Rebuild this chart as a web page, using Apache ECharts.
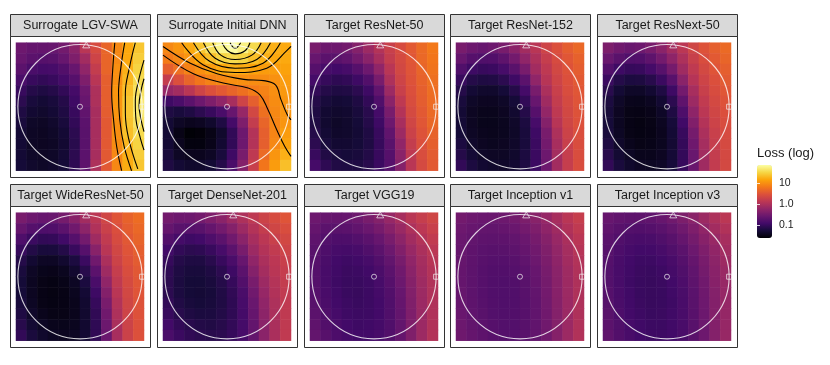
<!DOCTYPE html>
<html>
<head>
<meta charset="utf-8">
<script src="https://cdn.jsdelivr.net/npm/echarts@6/dist/echarts.min.js"></script>
<style>
html, body { margin: 0; padding: 0; background: #fff; }
#chart { width: 830px; height: 365px; }
</style>
</head>
<body>
<div id="chart"></div>
<script>
// panel titles, row by row
const panelTitles = [
  'Surrogate LGV-SWA', 'Surrogate Initial DNN', 'Target ResNet-50', 'Target ResNet-152', 'Target ResNext-50',
  'Target WideResNet-50', 'Target DenseNet-201', 'Target VGG19', 'Target Inception v1', 'Target Inception v3'
]

// log10(loss), 12 x 12 cells, rows from top to bottom
const lgvSwa = [
  [-0.55,-0.62,-0.62,-0.6,-0.5,-0.3,0.1,0.4,0.65,0.95,1.2,1.4],
  [-0.6,-0.7,-0.75,-0.72,-0.6,-0.4,-0.1,0.3,0.65,0.95,1.2,1.45],
  [-0.7,-0.85,-0.9,-0.88,-0.78,-0.6,-0.25,0.2,0.65,1.0,1.25,1.5],
  [-0.85,-1.0,-1.05,-1.0,-0.9,-0.75,-0.4,0.1,0.6,1.0,1.3,1.55],
  [-1.0,-1.15,-1.2,-1.15,-1.05,-0.9,-0.55,0.0,0.6,1.05,1.35,1.62],
  [-1.1,-1.25,-1.3,-1.25,-1.15,-0.95,-0.6,0.0,0.6,1.05,1.4,1.68],
  [-1.2,-1.32,-1.35,-1.3,-1.2,-1.0,-0.65,-0.05,0.58,1.05,1.4,1.68],
  [-1.25,-1.38,-1.4,-1.35,-1.25,-1.05,-0.7,-0.05,0.55,1.0,1.38,1.62],
  [-1.3,-1.4,-1.42,-1.38,-1.3,-1.1,-0.72,-0.05,0.55,1.0,1.35,1.55],
  [-1.3,-1.4,-1.42,-1.4,-1.32,-1.12,-0.72,-0.05,0.55,0.98,1.3,1.5],
  [-1.3,-1.38,-1.4,-1.38,-1.3,-1.1,-0.7,-0.05,0.55,0.95,1.25,1.45],
  [-1.28,-1.35,-1.38,-1.35,-1.28,-1.08,-0.68,0.0,0.55,0.95,1.22,1.4]
]
const initialDnn = [
  [0.95,1.05,1.2,1.4,1.6,1.78,1.85,1.75,1.55,1.35,1.25,1.2],
  [0.85,0.95,1.05,1.2,1.35,1.5,1.55,1.5,1.35,1.25,1.2,1.2],
  [0.6,0.75,0.9,1.0,1.1,1.2,1.25,1.22,1.15,1.1,1.1,1.15],
  [0.2,0.45,0.65,0.8,0.9,0.95,1.0,1.0,0.98,0.98,1.02,1.1],
  [-0.2,-0.1,0.1,0.3,0.45,0.55,0.65,0.75,0.85,0.9,1.0,1.08],
  [-0.95,-0.85,-0.7,-0.55,-0.4,-0.25,-0.05,0.3,0.6,0.85,0.98,1.05],
  [-1.2,-1.25,-1.2,-1.1,-1.0,-0.85,-0.6,-0.2,0.35,0.75,0.95,1.05],
  [-1.3,-1.4,-1.45,-1.42,-1.35,-1.2,-0.9,-0.4,0.2,0.65,0.92,1.05],
  [-1.3,-1.5,-1.6,-1.58,-1.5,-1.35,-1.05,-0.55,0.05,0.6,0.92,1.1],
  [-1.3,-1.45,-1.55,-1.55,-1.48,-1.32,-1.05,-0.55,0.05,0.6,0.95,1.15],
  [-1.25,-1.4,-1.45,-1.45,-1.4,-1.25,-0.95,-0.45,0.15,0.7,1.05,1.25],
  [-1.2,-1.3,-1.35,-1.35,-1.3,-1.15,-0.85,-0.35,0.25,0.8,1.1,1.35]
]
const resnet50 = [
  [-0.45,-0.55,-0.55,-0.5,-0.35,-0.15,0.05,0.25,0.4,0.55,0.7,0.82],
  [-0.6,-0.7,-0.72,-0.65,-0.5,-0.3,-0.05,0.2,0.38,0.52,0.68,0.8],
  [-0.75,-0.88,-0.92,-0.88,-0.75,-0.55,-0.25,0.1,0.35,0.5,0.65,0.78],
  [-0.9,-1.02,-1.08,-1.05,-0.95,-0.78,-0.45,0.0,0.3,0.48,0.63,0.75],
  [-1.05,-1.15,-1.2,-1.18,-1.1,-0.95,-0.65,-0.15,0.25,0.45,0.6,0.73],
  [-1.15,-1.25,-1.3,-1.28,-1.2,-1.05,-0.8,-0.3,0.15,0.42,0.58,0.72],
  [-1.2,-1.32,-1.35,-1.33,-1.25,-1.12,-0.9,-0.45,0.05,0.38,0.55,0.7],
  [-1.2,-1.33,-1.38,-1.35,-1.28,-1.15,-0.95,-0.55,-0.05,0.33,0.52,0.67],
  [-1.15,-1.3,-1.36,-1.35,-1.3,-1.2,-1.0,-0.65,-0.15,0.27,0.48,0.63],
  [-1.1,-1.25,-1.32,-1.32,-1.28,-1.2,-1.02,-0.72,-0.25,0.2,0.45,0.6],
  [-1.0,-1.18,-1.25,-1.27,-1.25,-1.17,-1.0,-0.75,-0.3,0.15,0.42,0.57],
  [-0.9,-1.08,-1.18,-1.2,-1.2,-1.12,-0.98,-0.75,-0.35,0.1,0.38,0.55]
]
const resnet152 = [
  [-0.45,-0.55,-0.6,-0.55,-0.45,-0.3,-0.1,0.1,0.3,0.45,0.58,0.68],
  [-0.6,-0.75,-0.8,-0.78,-0.68,-0.5,-0.25,0.0,0.22,0.4,0.52,0.62],
  [-0.8,-0.95,-1.0,-0.98,-0.88,-0.72,-0.45,-0.1,0.15,0.35,0.48,0.58],
  [-1.0,-1.15,-1.2,-1.18,-1.1,-0.95,-0.7,-0.25,0.08,0.3,0.45,0.55],
  [-1.15,-1.3,-1.35,-1.35,-1.28,-1.15,-0.9,-0.45,-0.02,0.25,0.42,0.52],
  [-1.25,-1.38,-1.42,-1.42,-1.38,-1.28,-1.05,-0.6,-0.12,0.2,0.38,0.5],
  [-1.3,-1.42,-1.46,-1.46,-1.42,-1.33,-1.15,-0.75,-0.22,0.15,0.35,0.48],
  [-1.3,-1.42,-1.47,-1.47,-1.44,-1.37,-1.22,-0.88,-0.35,0.08,0.32,0.46],
  [-1.28,-1.4,-1.45,-1.46,-1.44,-1.38,-1.25,-0.95,-0.45,0.0,0.28,0.44],
  [-1.22,-1.36,-1.42,-1.44,-1.42,-1.37,-1.25,-0.98,-0.5,-0.05,0.25,0.42],
  [-1.15,-1.3,-1.38,-1.4,-1.4,-1.35,-1.22,-0.98,-0.55,-0.08,0.22,0.42],
  [-1.05,-1.22,-1.32,-1.35,-1.36,-1.32,-1.2,-0.97,-0.55,-0.1,0.22,0.42]
]
const resnext50 = [
  [-0.42,-0.52,-0.58,-0.55,-0.45,-0.3,-0.1,0.12,0.32,0.48,0.6,0.7],
  [-0.58,-0.72,-0.8,-0.78,-0.68,-0.5,-0.27,0.0,0.24,0.42,0.55,0.65],
  [-0.78,-0.95,-1.02,-1.0,-0.9,-0.74,-0.48,-0.12,0.16,0.36,0.5,0.6],
  [-0.98,-1.15,-1.22,-1.21,-1.13,-0.98,-0.73,-0.3,0.07,0.3,0.45,0.56],
  [-1.12,-1.3,-1.38,-1.38,-1.32,-1.2,-0.95,-0.5,-0.05,0.24,0.41,0.52],
  [-1.22,-1.38,-1.46,-1.47,-1.43,-1.32,-1.1,-0.67,-0.15,0.18,0.37,0.48],
  [-1.26,-1.42,-1.5,-1.51,-1.48,-1.39,-1.2,-0.82,-0.27,0.12,0.33,0.45],
  [-1.27,-1.43,-1.51,-1.53,-1.5,-1.43,-1.27,-0.93,-0.38,0.05,0.29,0.42],
  [-1.25,-1.41,-1.5,-1.52,-1.51,-1.45,-1.3,-1.0,-0.48,-0.02,0.25,0.4],
  [-1.2,-1.37,-1.46,-1.5,-1.49,-1.44,-1.31,-1.03,-0.54,-0.07,0.22,0.38],
  [-1.13,-1.31,-1.41,-1.46,-1.46,-1.42,-1.29,-1.03,-0.58,-0.1,0.2,0.37],
  [-1.05,-1.24,-1.35,-1.4,-1.41,-1.38,-1.26,-1.01,-0.58,-0.12,0.19,0.36]
]
const wideResnet50 = [
  [-0.45,-0.55,-0.6,-0.58,-0.48,-0.32,-0.1,0.12,0.33,0.5,0.63,0.72],
  [-0.62,-0.76,-0.82,-0.8,-0.7,-0.52,-0.28,0.02,0.26,0.44,0.58,0.68],
  [-0.82,-0.98,-1.05,-1.03,-0.93,-0.76,-0.5,-0.12,0.18,0.4,0.54,0.64],
  [-1.0,-1.17,-1.25,-1.24,-1.16,-1.0,-0.75,-0.32,0.1,0.34,0.5,0.6],
  [-1.15,-1.32,-1.4,-1.4,-1.34,-1.22,-0.98,-0.52,-0.02,0.28,0.46,0.57],
  [-1.24,-1.4,-1.47,-1.48,-1.44,-1.34,-1.13,-0.7,-0.13,0.22,0.42,0.54],
  [-1.28,-1.43,-1.5,-1.52,-1.49,-1.41,-1.23,-0.85,-0.25,0.16,0.38,0.52],
  [-1.28,-1.43,-1.51,-1.53,-1.51,-1.44,-1.3,-0.95,-0.36,0.1,0.35,0.5],
  [-1.25,-1.41,-1.5,-1.52,-1.51,-1.46,-1.33,-1.02,-0.45,0.04,0.32,0.48],
  [-1.2,-1.37,-1.46,-1.5,-1.5,-1.46,-1.34,-1.06,-0.52,0.0,0.3,0.47],
  [-1.13,-1.31,-1.41,-1.46,-1.47,-1.44,-1.33,-1.07,-0.56,-0.03,0.28,0.46],
  [-1.05,-1.24,-1.35,-1.41,-1.43,-1.41,-1.31,-1.06,-0.57,-0.05,0.27,0.46]
]
const densenet201 = [
  [-0.5,-0.55,-0.55,-0.5,-0.4,-0.3,-0.15,0.0,0.15,0.28,0.4,0.5],
  [-0.62,-0.72,-0.75,-0.72,-0.62,-0.5,-0.35,-0.15,0.05,0.2,0.32,0.42],
  [-0.78,-0.9,-0.95,-0.92,-0.82,-0.7,-0.52,-0.3,-0.05,0.12,0.25,0.35],
  [-0.92,-1.05,-1.1,-1.08,-1.0,-0.88,-0.7,-0.45,-0.15,0.05,0.18,0.3],
  [-1.02,-1.15,-1.2,-1.2,-1.12,-1.0,-0.85,-0.6,-0.25,-0.02,0.13,0.25],
  [-1.08,-1.2,-1.25,-1.25,-1.2,-1.1,-0.95,-0.7,-0.35,-0.08,0.1,0.22],
  [-1.1,-1.22,-1.28,-1.28,-1.24,-1.15,-1.02,-0.78,-0.45,-0.15,0.06,0.2],
  [-1.1,-1.22,-1.28,-1.29,-1.26,-1.18,-1.06,-0.85,-0.52,-0.2,0.03,0.18],
  [-1.05,-1.18,-1.25,-1.27,-1.25,-1.19,-1.08,-0.88,-0.58,-0.25,0.0,0.17],
  [-1.0,-1.13,-1.2,-1.23,-1.22,-1.17,-1.07,-0.9,-0.62,-0.28,-0.02,0.16],
  [-0.92,-1.05,-1.13,-1.17,-1.18,-1.14,-1.05,-0.9,-0.63,-0.3,-0.03,0.16],
  [-0.85,-0.98,-1.06,-1.1,-1.12,-1.1,-1.02,-0.88,-0.63,-0.3,-0.03,0.17]
]
const vgg19 = [
  [-0.55,-0.6,-0.62,-0.6,-0.55,-0.45,-0.35,-0.2,-0.05,0.1,0.22,0.32],
  [-0.62,-0.7,-0.72,-0.7,-0.65,-0.57,-0.47,-0.33,-0.17,0.0,0.13,0.25],
  [-0.68,-0.77,-0.82,-0.82,-0.77,-0.7,-0.6,-0.45,-0.28,-0.1,0.05,0.18],
  [-0.72,-0.82,-0.88,-0.9,-0.87,-0.8,-0.7,-0.56,-0.38,-0.18,-0.02,0.12],
  [-0.75,-0.85,-0.92,-0.95,-0.93,-0.88,-0.78,-0.64,-0.46,-0.25,-0.07,0.08],
  [-0.76,-0.87,-0.94,-0.98,-0.97,-0.93,-0.84,-0.7,-0.52,-0.3,-0.1,0.05],
  [-0.76,-0.87,-0.95,-0.99,-0.99,-0.96,-0.88,-0.75,-0.56,-0.34,-0.13,0.03],
  [-0.75,-0.86,-0.94,-0.99,-1.0,-0.97,-0.9,-0.78,-0.6,-0.37,-0.15,0.02],
  [-0.73,-0.84,-0.92,-0.97,-0.99,-0.97,-0.91,-0.8,-0.62,-0.39,-0.16,0.02],
  [-0.7,-0.81,-0.89,-0.95,-0.97,-0.96,-0.91,-0.8,-0.63,-0.4,-0.17,0.02],
  [-0.67,-0.78,-0.86,-0.92,-0.95,-0.94,-0.9,-0.8,-0.63,-0.4,-0.16,0.03],
  [-0.63,-0.74,-0.83,-0.89,-0.92,-0.92,-0.88,-0.78,-0.62,-0.39,-0.15,0.05]
]
const inceptionV1 = [
  [-0.5,-0.55,-0.57,-0.57,-0.55,-0.5,-0.42,-0.32,-0.2,-0.05,0.1,0.22],
  [-0.55,-0.6,-0.63,-0.64,-0.62,-0.57,-0.5,-0.4,-0.27,-0.12,0.03,0.16],
  [-0.58,-0.64,-0.68,-0.69,-0.68,-0.64,-0.57,-0.47,-0.34,-0.18,-0.03,0.11],
  [-0.6,-0.67,-0.71,-0.73,-0.72,-0.69,-0.62,-0.52,-0.39,-0.23,-0.07,0.07],
  [-0.61,-0.68,-0.73,-0.76,-0.76,-0.73,-0.66,-0.56,-0.43,-0.27,-0.1,0.04],
  [-0.62,-0.69,-0.75,-0.78,-0.78,-0.76,-0.7,-0.6,-0.46,-0.3,-0.13,0.02],
  [-0.62,-0.69,-0.75,-0.79,-0.8,-0.78,-0.72,-0.62,-0.49,-0.32,-0.14,0.01],
  [-0.61,-0.69,-0.75,-0.79,-0.8,-0.79,-0.73,-0.64,-0.5,-0.33,-0.15,0.01],
  [-0.6,-0.68,-0.74,-0.78,-0.8,-0.79,-0.74,-0.65,-0.51,-0.34,-0.16,0.01],
  [-0.58,-0.66,-0.72,-0.77,-0.79,-0.78,-0.74,-0.65,-0.52,-0.35,-0.16,0.01],
  [-0.56,-0.64,-0.7,-0.75,-0.77,-0.77,-0.73,-0.65,-0.52,-0.35,-0.16,0.02],
  [-0.54,-0.62,-0.68,-0.73,-0.76,-0.76,-0.72,-0.64,-0.51,-0.34,-0.15,0.03]
]
const inceptionV3 = [
  [-0.6,-0.65,-0.68,-0.68,-0.66,-0.6,-0.52,-0.42,-0.3,-0.15,0.0,0.12],
  [-0.66,-0.73,-0.77,-0.78,-0.76,-0.71,-0.63,-0.53,-0.4,-0.25,-0.1,0.03],
  [-0.71,-0.79,-0.84,-0.86,-0.85,-0.8,-0.73,-0.62,-0.49,-0.33,-0.18,-0.05],
  [-0.74,-0.83,-0.89,-0.92,-0.91,-0.87,-0.8,-0.7,-0.56,-0.4,-0.24,-0.1],
  [-0.76,-0.86,-0.92,-0.96,-0.96,-0.92,-0.86,-0.76,-0.62,-0.45,-0.28,-0.14],
  [-0.77,-0.87,-0.94,-0.98,-0.99,-0.96,-0.9,-0.8,-0.66,-0.49,-0.31,-0.17],
  [-0.77,-0.87,-0.95,-0.99,-1.0,-0.98,-0.92,-0.83,-0.69,-0.52,-0.33,-0.19],
  [-0.76,-0.86,-0.94,-0.99,-1.0,-0.99,-0.94,-0.85,-0.71,-0.54,-0.35,-0.2],
  [-0.74,-0.85,-0.93,-0.98,-1.0,-0.99,-0.95,-0.86,-0.72,-0.55,-0.36,-0.21],
  [-0.72,-0.83,-0.91,-0.96,-0.99,-0.98,-0.94,-0.86,-0.73,-0.56,-0.36,-0.21],
  [-0.7,-0.8,-0.89,-0.94,-0.97,-0.97,-0.93,-0.86,-0.73,-0.56,-0.36,-0.2],
  [-0.67,-0.78,-0.86,-0.92,-0.95,-0.95,-0.92,-0.85,-0.72,-0.55,-0.35,-0.19]
]
const lossGrids = [lgvSwa, initialDnn, resnet50, resnet152, resnext50,
  wideResnet50, densenet201, vgg19, inceptionV1, inceptionV3]

// contour lines of the two surrogate panels, [x, y] in plane coordinates
const lgvContours = [
  [[0.56,1.03],[0.53,0.65],[0.51,0.22],[0.54,-0.21],[0.59,-0.64],[0.67,-1.03]],
  [[0.72,1.03],[0.66,0.65],[0.62,0.22],[0.64,-0.21],[0.71,-0.64],[0.83,-1.03]],
  [[0.89,1.03],[0.8,0.65],[0.73,0.22],[0.73,-0.1],[0.78,-0.5],[0.93,-1.0]],
  [[1.03,0.75],[0.95,0.45],[0.89,0.1],[0.9,-0.2],[0.97,-0.5],[1.03,-0.7]],
  [[1.03,0.45],[0.98,0.25],[0.95,0.02],[0.98,-0.2],[1.03,-0.4]]
]
const dnnContours = [
  [[0.05,1.03],[0.13,0.94],[0.22,1.03]],
  [[-0.08,1.03],[0.01,0.9],[0.13,0.85],[0.29,0.9],[0.37,1.03]],
  [[-0.23,1.03],[-0.1,0.83],[0.13,0.76],[0.4,0.83],[0.55,1.03]],
  [[-0.38,1.03],[-0.19,0.78],[0.13,0.69],[0.48,0.76],[0.7,1.03]],
  [[-0.54,1.03],[-0.28,0.73],[0.13,0.62],[0.58,0.7],[0.86,1.03]],
  [[-0.73,1.03],[-0.38,0.67],[0.13,0.55],[0.64,0.62],[0.97,0.91],[1.03,0.97]],
  [[-1.03,0.97],[-0.59,0.7],[-0.16,0.53],[0.27,0.44],[0.59,0.42],[0.78,0.35],[0.87,0.11],[0.97,-0.13],[1.03,-0.21]],
  [[-1.03,0.83],[-0.54,0.53],[-0.06,0.38],[0.34,0.3],[0.53,0.19],[0.66,-0.05],[0.8,-0.37],[0.93,-0.64],[1.03,-0.8]]
]
const panelContours = { 0: lgvContours, 1: dnnContours }

// reference points on the unit circle
const centerPoint = [0, 0]
const topPoint = [0.1, 0.995]
const rightPoint = [1, 0]

// colour bar
const legendTicks = [-1, 0, 1]
const legendLabels = ['0.1', '1.0', '10']
const lossMin = -1.62
const lossMax = 1.87

const inferno = ['#000004', '#160b39', '#420a68', '#6a176e', '#932667', '#bc3754',
  '#dd513a', '#f37819', '#fca50a', '#f6d746', '#fcffa4']
const FONT = '"Liberation Sans", Arial, Helvetica, sans-serif'
const EXT = 1.03
const CELLS = 12
const cellIdx = Array.from({ length: CELLS }, (_, i) => String(i))

const chart = echarts.init(document.getElementById('chart'))

const grids = [], xAxes = [], yAxes = [], series = [], graphics = [], heatIdx = []

lossGrids.forEach((rows, i) => {
  const col = i % 5, row = Math.floor(i / 5)
  const x0 = Math.round(10 + col * 146.8) + 0.5
  const y0 = 14 + row * 170 + 0.5
  const g = { left: x0 + 5.5, top: y0 + 28.2, width: 128, height: 128 }
  const hg = grids.length
  grids.push({ ...g }, { ...g })
  xAxes.push({ gridIndex: hg, type: 'category', data: cellIdx, show: false })
  yAxes.push({ gridIndex: hg, type: 'category', data: cellIdx, show: false })
  xAxes.push({ gridIndex: hg + 1, type: 'value', min: -EXT, max: EXT, show: false })
  yAxes.push({ gridIndex: hg + 1, type: 'value', min: -EXT, max: EXT, show: false })

  const data = []
  rows.forEach((r, ri) => r.forEach((v, ci) => data.push([ci, CELLS - 1 - ri, v])))
  heatIdx.push(series.length)
  series.push({
    type: 'heatmap', xAxisIndex: hg, yAxisIndex: hg, data, silent: true,
    itemStyle: { borderWidth: 0 }, progressive: 0
  })

  const ov = { xAxisIndex: hg + 1, yAxisIndex: hg + 1, silent: true }
  ;(panelContours[i] || []).forEach(line => {
    series.push({
      ...ov, type: 'line', data: line, showSymbol: false, smooth: 0.4, z: 3,
      lineStyle: { color: '#000', width: 1.1 }
    })
  })
  const pxPerUnit = 128 / (2 * EXT)
  series.push({
    ...ov, type: 'scatter', data: [centerPoint], symbol: 'circle', symbolSize: 2 * pxPerUnit, z: 4,
    itemStyle: { color: 'transparent', borderColor: '#ffffff', borderWidth: 1.1 }
  })
  const mk = (pt, symbol, size) => series.push({
    ...ov, type: 'scatter', data: [pt], symbol, symbolSize: size, z: 5,
    itemStyle: { color: 'transparent', borderColor: '#f2f2f2', borderWidth: 0.9 }
  })
  mk(centerPoint, 'circle', 5)
  mk(topPoint, 'triangle', [7, 6])
  mk(rightPoint, 'rect', 5)

  graphics.push({
    type: 'rect', shape: { x: x0, y: y0, width: 140, height: 22 },
    style: { fill: '#d9d9d9', stroke: '#333333', lineWidth: 1 }, z: 1
  })
  graphics.push({
    type: 'rect', shape: { x: x0, y: y0 + 22, width: 140, height: 141 },
    style: { fill: 'none', stroke: '#333333', lineWidth: 1 }, z: 1
  })
  graphics.push({
    type: 'text', x: x0 + 70, y: y0 + 11.5, z: 2,
    style: {
      text: panelTitles[i], fill: '#1a1a1a', font: '12.5px ' + FONT,
      align: 'center', verticalAlign: 'middle', textAlign: 'center', textVerticalAlign: 'middle'
    }
  })
})

// colour bar ticks and labels
const lg = grids.length
grids.push({ left: 757, top: 165, width: 15, height: 73 })
xAxes.push({ gridIndex: lg, type: 'value', min: 0, max: 1, show: false })
const tickAxis = (position, showLabel) => ({
  gridIndex: lg, type: 'value', min: lossMin, max: lossMax, position, z: 10,
  axisLine: { show: false }, splitLine: { show: false },
  axisTick: { show: true, inside: true, length: 3, lineStyle: { color: '#ffffff', width: 1, opacity: 0.8 }, customValues: legendTicks },
  axisLabel: {
    show: showLabel, customValues: legendTicks, margin: 7, fontSize: 10.5, color: '#1a1a1a', fontFamily: FONT,
    formatter: v => legendLabels[legendTicks.indexOf(Math.round(v))]
  }
})
yAxes.push(tickAxis('right', true), tickAxis('left', false))

graphics.push({
  type: 'text', x: 757, y: 153, z: 2,
  style: {
    text: 'Loss (log)', fill: '#1a1a1a', font: '13px ' + FONT,
    align: 'left', verticalAlign: 'middle', textAlign: 'left', textVerticalAlign: 'middle'
  }
})

chart.setOption({
  animation: false,
  backgroundColor: '#ffffff',
  grid: grids,
  xAxis: xAxes,
  yAxis: yAxes,
  visualMap: {
    type: 'continuous', min: lossMin, max: lossMax, seriesIndex: heatIdx,
    inRange: { color: inferno }, show: true, calculable: false, hoverLink: false,
    left: 757, top: 165, itemWidth: 15, itemHeight: 73, padding: 0, text: null
  },
  graphic: graphics,
  series
})
</script>
</body>
</html>
